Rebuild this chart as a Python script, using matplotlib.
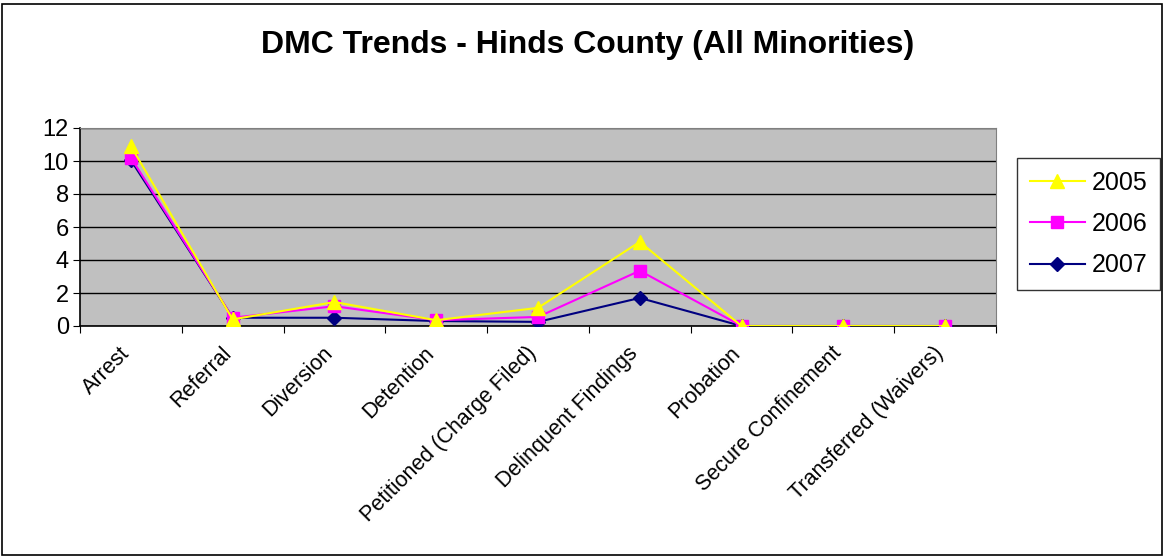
import matplotlib
matplotlib.use("Agg")
import matplotlib.pyplot as plt
import matplotlib.transforms as mtrans
from matplotlib.patches import Rectangle

plt.rcParams['font.family'] = ['Liberation Sans', 'DejaVu Sans']

categories = ["Arrest", "Referral", "Diversion", "Detention", "Petitioned (Charge Filed)",
              "Delinquent Findings", "Probation", "Secure Confinement", "Transferred (Waivers)"]
v2005 = [10.9, 0.4, 1.45, 0.35, 1.1, 5.1, 0.0, 0.0, 0.0]
v2006 = [10.2, 0.5, 1.2, 0.35, 0.55, 3.35, 0.0, 0.0, 0.0]
v2007 = [10.05, 0.5, 0.5, 0.3, 0.25, 1.7, 0.0, 0.0, 0.0]
yticks = [0, 2, 4, 6, 8, 10, 12]

W, H = 1166, 558
fig = plt.figure(figsize=(W/100, H/100), dpi=100)
fig.patches.append(Rectangle((2/W, 3/H), 1160/W, 551/H, transform=fig.transFigure,
                             fill=False, edgecolor='black', linewidth=1.2))
ax = fig.add_axes([80/W, 1-326/H, 916/W, 198/H])
ax.set_facecolor('#C0C0C0')
x = list(range(len(categories)))
l7, = ax.plot(x, v2007, color='#000080', marker='D', markersize=7, linewidth=1.5, label='2007', zorder=3)
l6, = ax.plot(x, v2006, color='#FF00FF', marker='s', markersize=8, linewidth=1.5, label='2006', zorder=4)
l5, = ax.plot(x, v2005, color='#FFFF00', marker='^', markersize=10, linewidth=1.5, label='2005', zorder=5)
ax.set_xlim(-0.5, len(categories)-0.5)
ax.set_ylim(0, 12)
ax.set_yticks(yticks)
ax.set_yticklabels([str(t) for t in yticks], fontsize=17)
ax.yaxis.grid(True, color='black', linewidth=1)
ax.set_axisbelow(True)
ax.set_xticks([i - 0.5 for i in range(len(categories)+1)])
ax.set_xticklabels([])
ax.set_xticks(x, minor=True)
ax.set_xticklabels(categories, minor=True, rotation=45, ha='right', va='top',
                   rotation_mode='anchor', fontsize=15.5)
ax.tick_params(axis='x', which='minor', length=0, pad=12)
ax.tick_params(axis='x', which='major', length=5, direction='out', color='black')
ax.tick_params(axis='y', length=5, direction='out', pad=3)
offset = mtrans.ScaledTranslation(-12/100, 0, fig.dpi_scale_trans)
for lab in ax.get_xticklabels(minor=True):
    lab.set_transform(lab.get_transform() + offset)
for s in ['top', 'right']:
    ax.spines[s].set_color('#808080')
for s in ['left', 'bottom']:
    ax.spines[s].set_color('black')
    ax.spines[s].set_linewidth(1.2)
fig.text(588/W, 1-45/H, "DMC Trends - Hinds County (All Minorities)", ha='center', va='center',
         fontsize=23, fontweight='bold')
leg = fig.legend(handles=[l5, l6, l7], loc='upper left', bbox_to_anchor=(1017/W, 1-158/H),
                 fontsize=18, frameon=True, fancybox=False, edgecolor='black',
                 handlelength=2.2, labelspacing=0.7, borderpad=0.5, handletextpad=0.3,
                 borderaxespad=0)
leg.get_frame().set_linewidth(1)
fig.savefig('out.png', dpi=100)
